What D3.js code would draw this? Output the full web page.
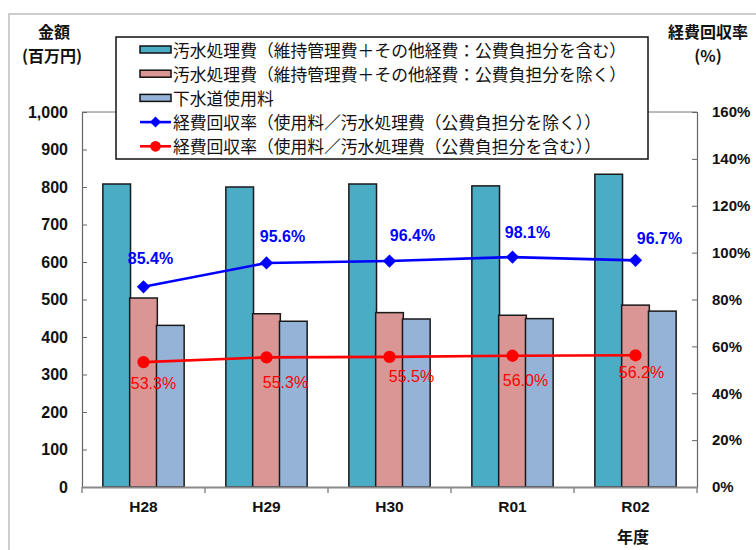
<!DOCTYPE html>
<html>
<head>
<meta charset="utf-8">
<script src="https://cdn.jsdelivr.net/npm/d3@7"></script>
<style>
  html, body { margin: 0; padding: 0; background: #fff; }
  svg { display: block; }
  text { font-family: "Liberation Sans", Arial, "Noto Sans CJK JP", sans-serif; }
  .jp { font-family: "Noto Sans CJK JP", sans-serif; }
</style>
</head>
<body>
<script>
// Fiscal years
const categories = ["H28", "H29", "H30", "R01", "R02"];
// Wastewater treatment cost incl. public share (million yen)
const costInclPublic = [808, 800, 808, 803, 834];
// Wastewater treatment cost excl. public share (million yen)
const costExclPublic = [504, 462, 465, 458, 485];
// Sewer usage fees (million yen)
const sewerFees = [431, 442, 448, 449, 469];
// Cost recovery rate: fees / cost excl. public share (%)
const recoveryExcl = [85.4, 95.6, 96.4, 98.1, 96.7];
// Cost recovery rate: fees / cost incl. public share (%)
const recoveryIncl = [53.3, 55.3, 55.5, 56.0, 56.2];

const leftTicks = [0, 100, 200, 300, 400, 500, 600, 700, 800, 900, 1000];
const rightTicks = [0, 20, 40, 60, 80, 100, 120, 140, 160];

const legendLabels = [
  "汚水処理費（維持管理費＋その他経費：公費負担分を含む）",
  "汚水処理費（維持管理費＋その他経費：公費負担分を除く）",
  "下水道使用料",
  "経費回収率（使用料／汚水処理費（公費負担分を除く））",
  "経費回収率（使用料／汚水処理費（公費負担分を含む））"
];

// hand-placed data-label offsets [dx, dy] from each marker
const blueLabelNudge = [[7, -28], [16, -26], [23, -26], [15, -25], [24, -22]];
const redLabelNudge = [[10, 21], [19, 25], [22, 20], [13, 25], [6, 17]];

const W = 756, H = 550;
const plot = { left: 82, right: 697, top: 112, bottom: 487 };

const svg = d3.select("body").append("svg")
  .attr("width", W).attr("height", H);

// outer frame
svg.append("rect")
  .attr("x", 9).attr("y", 14).attr("width", 800).attr("height", 600)
  .attr("fill", "#fff").attr("stroke", "#bdbdbd").attr("stroke-width", 1.5);

const x = d3.scaleBand().domain(categories).range([plot.left, plot.right]).padding(0);
const yL = d3.scaleLinear().domain([0, 1000]).range([plot.bottom, plot.top]);
const yR = d3.scaleLinear().domain([0, 160]).range([plot.bottom, plot.top]);

// plot frame top line
svg.append("line")
  .attr("x1", plot.left).attr("x2", plot.right)
  .attr("y1", plot.top).attr("y2", plot.top)
  .attr("stroke", "#777").attr("stroke-width", 1);

// bars
const band = x.bandwidth();
const barW = band * 0.225;
const barStep = band * 0.218;
const series = [
  { values: costInclPublic, color: "#4bacc6", off: -1 },
  { values: costExclPublic, color: "#d99694", off: 0 },
  { values: sewerFees, color: "#95b3d7", off: 1 }
];
series.forEach(s => {
  svg.append("g").selectAll("rect")
    .data(s.values)
    .join("rect")
    .attr("x", (d, i) => x(categories[i]) + band / 2 + s.off * barStep - barW / 2)
    .attr("y", d => yL(d))
    .attr("width", barW)
    .attr("height", d => yL(0) - yL(d))
    .attr("fill", s.color)
    .attr("stroke", "#1a1a1a")
    .attr("stroke-width", 1.5);
});

const tickFont = "'Liberation Sans', Arial, sans-serif";

// left axis
const axL = svg.append("g")
  .attr("transform", `translate(${plot.left},0)`)
  .call(d3.axisLeft(yL).tickValues(leftTicks).tickSize(-5).tickPadding(14)
    .tickFormat(d3.format(",")));
axL.select(".domain").attr("stroke", "#666").attr("stroke-width", 1.2);
axL.selectAll(".tick line").attr("stroke", "#666");
axL.selectAll("text").attr("font-size", 16).attr("font-weight", "bold")
  .attr("fill", "#111").style("font-family", tickFont);

// right axis
const axR = svg.append("g")
  .attr("transform", `translate(${plot.right},0)`)
  .call(d3.axisRight(yR).tickValues(rightTicks).tickSize(-5).tickPadding(15)
    .tickFormat(d => d + "%"));
axR.select(".domain").attr("stroke", "#666").attr("stroke-width", 1.2);
axR.selectAll(".tick line").attr("stroke", "#666");
axR.selectAll("text").attr("font-size", 15).attr("font-weight", "bold")
  .attr("fill", "#111").style("font-family", tickFont);

// bottom axis with ticks at category boundaries
const axB = svg.append("g")
  .attr("transform", `translate(0,${plot.bottom})`)
  .call(d3.axisBottom(x).tickSize(0).tickPadding(14));
axB.select(".domain").attr("stroke", "#8a8a8a").attr("stroke-width", 2);
axB.selectAll("text").attr("font-size", 15.5).attr("font-weight", "bold")
  .attr("fill", "#111").style("font-family", tickFont);
svg.append("g").selectAll("line")
  .data(d3.range(categories.length + 1))
  .join("line")
  .attr("x1", i => plot.left + i * band).attr("x2", i => plot.left + i * band)
  .attr("y1", plot.bottom).attr("y2", plot.bottom + 6)
  .attr("stroke", "#8a8a8a").attr("stroke-width", 1.5);

// recovery-rate lines
const cx = (d, i) => x(categories[i]) + band / 2;
const lineGen = yScale => d3.line().x(cx).y(d => yScale(d));

const diamond = d3.symbol().type(d3.symbolSquare).size(88);
const circle = d3.symbol().type(d3.symbolCircle).size(118);

function drawRate(values, color, sym, rotate, nudge, weight) {
  svg.append("path")
    .datum(values)
    .attr("d", lineGen(yR))
    .attr("fill", "none").attr("stroke", color).attr("stroke-width", 2.6);
  svg.append("g").selectAll("path")
    .data(values)
    .join("path")
    .attr("d", sym)
    .attr("transform", (d, i) => `translate(${cx(d, i)},${yR(d)}) rotate(${rotate})`)
    .attr("fill", color);
  svg.append("g").selectAll("text")
    .data(values)
    .join("text")
    .attr("x", (d, i) => cx(d, i) + nudge[i][0])
    .attr("y", (d, i) => yR(d) + nudge[i][1])
    .attr("text-anchor", "middle")
    .attr("dominant-baseline", "central")
    .attr("font-size", 16)
    .attr("font-weight", weight)
    .attr("fill", color)
    .style("font-family", tickFont)
    .text(d => d.toFixed(1) + "%");
}
drawRate(recoveryExcl, "#0000ff", diamond, 45, blueLabelNudge, "bold");
drawRate(recoveryIncl, "#ff0000", circle, 0, redLabelNudge, "normal");

// axis titles
const titleStyle = sel => sel.attr("class", "jp").attr("font-size", 16)
  .attr("font-weight", "bold").attr("text-anchor", "middle")
  .attr("dominant-baseline", "central").attr("fill", "#111");
svg.append("text").attr("x", 54).attr("y", 31).call(titleStyle).text("金額");
svg.append("text").attr("x", 52).attr("y", 55).call(titleStyle).text("(百万円)");
svg.append("text").attr("x", 708).attr("y", 31).call(titleStyle).text("経費回収率");
svg.append("text").attr("x", 708).attr("y", 55).call(titleStyle).text("(%)");
svg.append("text").attr("x", 633).attr("y", 536).call(titleStyle).text("年度");

// legend
const lg = svg.append("g");
lg.append("rect")
  .attr("x", 116).attr("y", 37).attr("width", 532).attr("height", 122)
  .attr("fill", "#fff").attr("stroke", "#111").attr("stroke-width", 1.5);
const rowY = i => 49.5 + i * 24.2;
const swatchColors = ["#4bacc6", "#d99694", "#95b3d7"];
swatchColors.forEach((c, i) => {
  lg.append("rect")
    .attr("x", 140).attr("y", rowY(i) - 3.5).attr("width", 31).attr("height", 7)
    .attr("fill", c).attr("stroke", "#111").attr("stroke-width", 1.5);
});
[["#0000ff", d3.symbol().type(d3.symbolSquare).size(60)(), 45],
 ["#ff0000", d3.symbol().type(d3.symbolCircle).size(90)(), 0]].forEach(([c, path, rot], k) => {
  const yy = rowY(3 + k);
  lg.append("line").attr("x1", 140).attr("x2", 171).attr("y1", yy).attr("y2", yy)
    .attr("stroke", c).attr("stroke-width", 2.6);
  lg.append("path")
    .attr("d", path)
    .attr("transform", `translate(155.5,${yy}) rotate(${rot})`)
    .attr("fill", c);
});
lg.selectAll("text.lbl")
  .data(legendLabels)
  .join("text")
  .attr("class", "jp lbl")
  .attr("x", 173)
  .attr("y", (d, i) => rowY(i))
  .attr("dominant-baseline", "central")
  .attr("font-size", 16.8)
  .attr("fill", "#111")
  .text(d => d);
</script>
</body>
</html>
